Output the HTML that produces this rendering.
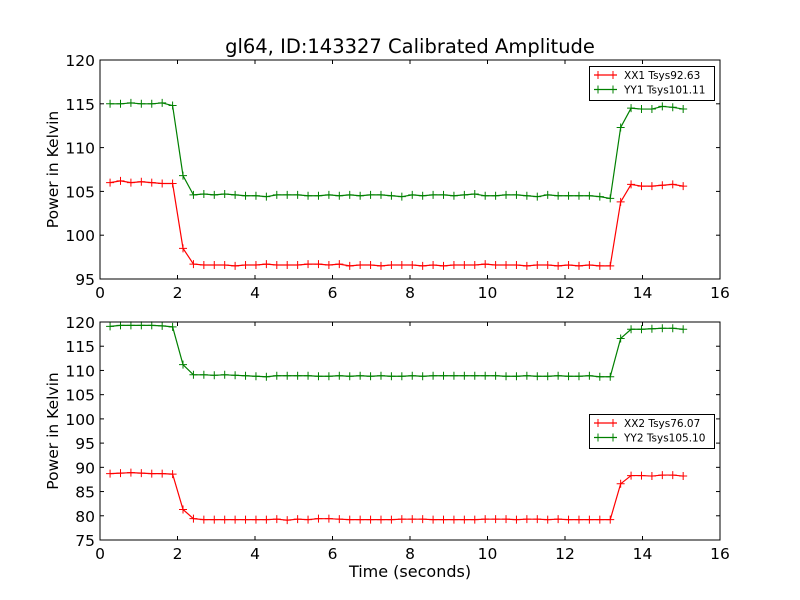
<!DOCTYPE html>
<html><head><meta charset="utf-8"><style>
body{margin:0;background:#fff;}
svg{display:block;font-family:"DejaVu Sans","Liberation Sans",sans-serif;}
</style></head><body>
<svg id="c" width="800" height="600" viewBox="0 0 800 600"></svg>
<script>
const xStart = 0.26, xStep = 0.2689;
const xx1 = [106.0,106.2,106.0,106.1,106.0,105.9,105.9,98.5,
96.7,96.6,96.6,96.6,96.5,96.6,96.6,96.7,96.6,96.6,
96.6,96.7,96.7,96.6,96.7,96.5,96.6,96.6,96.5,96.6,
96.6,96.6,96.5,96.6,96.5,96.6,96.6,96.6,96.7,96.6,
96.6,96.6,96.5,96.6,96.6,96.5,96.6,96.5,96.6,96.5,96.5,
103.8,105.8,105.6,105.6,105.7,105.8,105.6];
const yy1 = [115.0,115.0,115.1,115.0,115.0,115.1,114.8,106.8,
104.6,104.7,104.6,104.7,104.6,104.5,104.5,104.4,104.6,104.6,
104.6,104.5,104.5,104.6,104.5,104.6,104.5,104.6,104.6,104.5,
104.4,104.6,104.5,104.6,104.6,104.5,104.6,104.7,104.5,104.5,
104.6,104.6,104.5,104.4,104.6,104.5,104.5,104.5,104.5,104.4,104.2,
112.3,114.5,114.4,114.4,114.7,114.6,114.4];
const xx2 = [88.7,88.8,88.9,88.8,88.7,88.7,88.6,81.3,
79.4,79.2,79.2,79.2,79.2,79.2,79.2,79.2,79.3,79.1,
79.3,79.2,79.4,79.4,79.3,79.2,79.2,79.2,79.2,79.2,
79.3,79.3,79.3,79.2,79.2,79.2,79.2,79.2,79.3,79.3,
79.3,79.2,79.3,79.3,79.2,79.3,79.2,79.2,79.2,79.2,79.2,
86.6,88.3,88.3,88.2,88.4,88.4,88.2];
const yy2 = [119.1,119.3,119.3,119.3,119.3,119.2,119.0,111.2,
109.1,109.1,109.0,109.1,109.0,108.9,108.8,108.7,108.9,108.9,
108.9,108.9,108.8,108.8,108.9,108.8,108.9,108.8,108.9,108.8,
108.8,108.9,108.8,108.9,108.9,108.9,108.9,108.9,108.9,108.9,
108.8,108.8,108.9,108.8,108.8,108.9,108.8,108.8,108.9,108.7,108.7,
116.6,118.5,118.5,118.6,118.7,118.7,118.5];
const xTicks = [0,2,4,6,8,10,12,14,16];
const yTicksTop = [95,100,105,110,115,120];
const yTicksBot = [75,80,85,90,95,100,105,110,115,120];
const title = "gl64, ID:143327 Calibrated Amplitude";

const NS = "http://www.w3.org/2000/svg";
const svg = document.getElementById('c');
function mk(tag, attrs, parent){const e=document.createElementNS(NS,tag);for(const k in attrs)e.setAttribute(k,attrs[k]);(parent||svg).appendChild(e);return e;}

function panel(name, top, bottom, ymin, ymax, yTicks, series, legendY, showXLabel){
  const L=100,R=720;
  const g = mk('g',{});
  
  
  const sx = v => L + (v-0)/(16-0)*(R-L);
  const sy = v => bottom - (v-ymin)/(ymax-ymin)*(bottom-top);
  xTicks.forEach(t=>{
    const x=sx(t);
    mk('line',{x1:x,x2:x,y1:bottom,y2:bottom-4,stroke:'#000','stroke-width':1},g);
    mk('line',{x1:x,x2:x,y1:top,y2:top+4,stroke:'#000','stroke-width':1},g);
    const tx=mk('text',{x:x,y:bottom+19,'text-anchor':'middle','font-size':15.5},g);
    tx.textContent=t;
    
    
  });
  yTicks.forEach(t=>{
    const y=sy(t);
    mk('line',{x1:L,x2:L+4,y1:y,y2:y,stroke:'#000','stroke-width':1},g);
    mk('line',{x1:R,x2:R-4,y1:y,y2:y,stroke:'#000','stroke-width':1},g);
    const tx=mk('text',{x:L-5,y:y+6,'text-anchor':'end','font-size':15.5},g);
    tx.textContent=t;
    
    
  });
  const yl=mk('text',{x:0,y:0,'text-anchor':'middle','font-size':15.5,transform:`translate(58,${(top+bottom)/2}) rotate(-90)`},g);
  yl.textContent='Power in Kelvin';
  
  
  series.forEach(s=>{
    const pts=s.data.map((v,i)=>[sx(xStart+i*xStep),sy(v)]);
    const pl=mk('polyline',{points:pts.map(p=>p.join(',')).join(' '),fill:'none',stroke:s.color,'stroke-width':1.2},g);
    
    
    pts.forEach(p=>{
      const m=mk('path',{d:`M${p[0]-4},${p[1]}h8M${p[0]},${p[1]-4}v8`,stroke:s.color,'stroke-width':1},g);
      
      
    });
  });
  mk('rect',{x:L,y:top,width:R-L,height:bottom-top,fill:'none',stroke:'#000','stroke-width':1},g);
  const lg=mk('g',{},g);
  
  
  mk('rect',{x:589.5,y:legendY+0.5,width:125,height:34,fill:'#fff',stroke:'#000','stroke-width':1},lg);
  series.forEach((s,i)=>{
    const y=legendY+9+i*14.5;
    mk('line',{x1:594,x2:617,y1:y,y2:y,stroke:s.color,'stroke-width':1.2},lg);
    mk('path',{d:`M${598},${y-4}v8M${613},${y-4}v8`,stroke:s.color,'stroke-width':1},lg);
    const t=mk('text',{x:624,y:y+4,'font-size':10.5},lg);
    t.textContent=s.label;
    
    
  });
  if(showXLabel){
    const xl=mk('text',{x:410,y:bottom+37,'text-anchor':'middle','font-size':16},g);
    xl.textContent='Time (seconds)';
    
    
  }
}
const tt=mk('text',{x:410,y:53,'text-anchor':'middle','font-size':19.5});
tt.textContent=title;


panel('top-panel',60,279,95,120,yTicksTop,[{data:xx1,color:'#ff0000',label:'XX1 Tsys92.63'},{data:yy1,color:'#008000',label:'YY1 Tsys101.11'}],66,false);
panel('bottom-panel',322,540,75,120,yTicksBot,[{data:xx2,color:'#ff0000',label:'XX2 Tsys76.07'},{data:yy2,color:'#008000',label:'YY2 Tsys105.10'}],414,true);
</script>
</body></html>
